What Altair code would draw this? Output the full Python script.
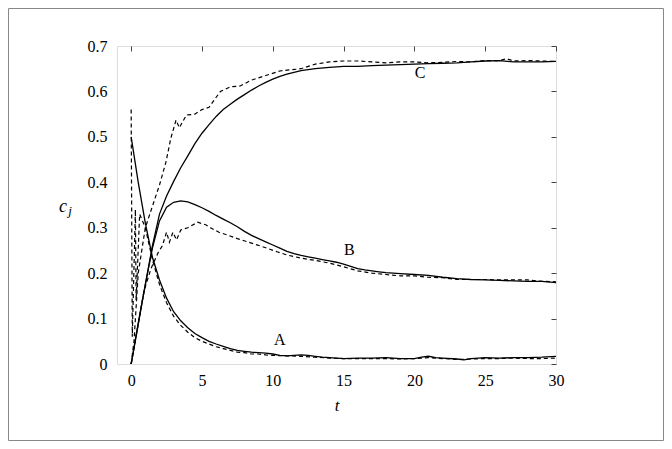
import altair as alt
import pandas as pd

# ---- data ----
tA = [0, 0.5, 1, 1.5, 2, 2.5, 3, 3.5, 4, 4.5, 5, 5.5, 6, 6.5, 7, 7.5, 8, 8.5, 9, 9.5, 10, 10.5, 11, 11.5, 12, 12.5, 13, 13.5, 14, 15, 16, 17, 18, 19, 20, 20.5, 21, 21.5, 22, 23, 23.5, 24, 25, 26, 27, 28, 29, 30]
solidA = [0.50, 0.40, 0.31, 0.235, 0.185, 0.145, 0.115, 0.095, 0.08, 0.067, 0.058, 0.05, 0.044, 0.039, 0.034, 0.03, 0.028, 0.026, 0.025, 0.024, 0.022, 0.019, 0.018, 0.019, 0.02, 0.019, 0.017, 0.015, 0.014, 0.012, 0.013, 0.013, 0.014, 0.012, 0.012, 0.015, 0.017, 0.014, 0.013, 0.011, 0.009, 0.012, 0.014, 0.013, 0.014, 0.014, 0.015, 0.017]

tAd = [0, 0.08, 0.3, 0.35, 0.6, 1, 1.5, 2, 2.5, 3, 3.5, 4, 4.5, 5, 5.5, 6, 6.5, 7, 7.5, 8, 8.5, 9, 9.5, 10, 11, 12, 13, 14, 15, 16, 17, 18, 19, 20, 21, 22, 23, 24, 25, 26, 27, 28, 29, 30]
dashA = [0.56, 0.06, 0.34, 0.14, 0.33, 0.30, 0.23, 0.175, 0.135, 0.105, 0.085, 0.07, 0.058, 0.05, 0.044, 0.038, 0.034, 0.03, 0.026, 0.025, 0.022, 0.022, 0.02, 0.019, 0.018, 0.017, 0.015, 0.013, 0.012, 0.012, 0.012, 0.012, 0.011, 0.012, 0.014, 0.012, 0.01, 0.011, 0.012, 0.012, 0.013, 0.012, 0.012, 0.013]

tB = [0, 0.5, 1, 1.5, 2, 2.5, 3, 3.5, 4, 4.5, 5, 5.5, 6, 6.5, 7, 7.5, 8, 8.5, 9, 9.5, 10, 10.5, 11, 11.5, 12, 12.5, 13, 13.5, 14, 14.5, 15, 15.5, 16, 16.5, 17, 17.5, 18, 19, 20, 21, 22, 23, 24, 25, 26, 27, 28, 29, 30]
solidB = [0.0, 0.09, 0.175, 0.255, 0.315, 0.345, 0.356, 0.359, 0.357, 0.351, 0.344, 0.336, 0.327, 0.319, 0.311, 0.302, 0.292, 0.283, 0.276, 0.269, 0.262, 0.255, 0.248, 0.243, 0.239, 0.236, 0.233, 0.23, 0.227, 0.224, 0.22, 0.215, 0.21, 0.207, 0.205, 0.203, 0.201, 0.199, 0.197, 0.195, 0.191, 0.188, 0.186, 0.185, 0.184, 0.183, 0.182, 0.182, 0.179]

tBd = [0, 0.4, 0.9, 1.4, 1.9, 2.2, 2.5, 2.7, 2.95, 3.2, 3.5, 4, 4.7, 5.3, 5.6, 6.2, 6.8, 7.5, 8.5, 9.5, 10.3, 11, 12, 13, 14, 15, 16, 17, 18, 19, 20, 21, 22, 23, 24, 25, 26, 27, 28, 29, 30]
dashB = [0.0, 0.07, 0.16, 0.21, 0.245, 0.26, 0.29, 0.268, 0.29, 0.273, 0.295, 0.3, 0.312, 0.306, 0.30, 0.29, 0.284, 0.276, 0.266, 0.256, 0.247, 0.24, 0.233, 0.228, 0.222, 0.214, 0.205, 0.2, 0.197, 0.194, 0.194, 0.191, 0.19, 0.186, 0.186, 0.186, 0.185, 0.185, 0.185, 0.182, 0.181]

tC = [0, 0.5, 1, 1.5, 2, 2.5, 3, 3.5, 4, 4.5, 5, 5.5, 6, 6.5, 7, 7.5, 8, 8.5, 9, 9.5, 10, 10.5, 11, 11.5, 12, 13, 14, 15, 16, 17, 18, 19, 20, 21, 22, 23, 24, 25, 26, 27, 28, 29, 30]
solidC = [0.0, 0.088, 0.175, 0.26, 0.33, 0.37, 0.402, 0.432, 0.458, 0.485, 0.508, 0.527, 0.545, 0.56, 0.572, 0.583, 0.593, 0.603, 0.612, 0.62, 0.627, 0.633, 0.638, 0.642, 0.646, 0.65, 0.653, 0.655, 0.655, 0.657, 0.658, 0.659, 0.66, 0.661, 0.662, 0.663, 0.665, 0.667, 0.668, 0.665, 0.665, 0.665, 0.666]

tCd = [0, 0.2, 0.5, 1, 1.53, 2, 2.46, 2.8, 3.17, 3.4, 3.9, 4.5, 5, 5.5, 6.3, 7, 7.7, 8.5, 9.5, 10.5, 12, 13, 14, 15, 16, 17, 18, 19, 20, 21, 22, 23, 24, 25, 26, 26.5, 27, 28, 29, 30]
dashC = [0.0, 0.05, 0.2, 0.3, 0.35, 0.394, 0.445, 0.497, 0.537, 0.52, 0.548, 0.55, 0.56, 0.565, 0.6, 0.61, 0.612, 0.625, 0.635, 0.645, 0.65, 0.66, 0.665, 0.667, 0.667, 0.665, 0.663, 0.665, 0.665, 0.663, 0.664, 0.666, 0.665, 0.668, 0.668, 0.672, 0.667, 0.668, 0.667, 0.666]

label_text = ["A", "B", "C"]
label_t = [10.5, 15.4, 20.4]
label_c = [0.042, 0.24, 0.63]

x_ticks = [0, 5, 10, 15, 20, 25, 30]
y_ticks = [0, 0.1, 0.2, 0.3, 0.4, 0.5, 0.6, 0.7]

FONT = "Liberation Serif"

def frame(ts, vs, name):
    return pd.DataFrame({"t": ts, "c": vs, "series": name})

solid_df = pd.concat([frame(tA, solidA, "A"), frame(tB, solidB, "B"), frame(tC, solidC, "C")])
dash_df = pd.concat([frame(tAd, dashA, "A"), frame(tBd, dashB, "B"), frame(tCd, dashC, "C")])
lab_df = pd.DataFrame({"t": label_t, "c": label_c, "txt": label_text})

xscale = alt.Scale(domain=[-1, 30], nice=False, zero=False)
yscale = alt.Scale(domain=[0, 0.7], nice=False)

solid = alt.Chart(solid_df).mark_line(color="black", strokeWidth=1.3).encode(
    x=alt.X("t:Q", scale=xscale, axis=alt.Axis(
        values=x_ticks, format="d", tickSize=0, domain=False, grid=False,
        labelFlush=False,
        labelFont=FONT, labelFontSize=16, labelColor="black", labelPadding=8,
        title="t", titleFont=FONT, titleFontSize=17, titleFontStyle="italic",
        titleFontWeight="normal", titleColor="black", titlePadding=9)),
    y=alt.Y("c:Q", scale=yscale, axis=alt.Axis(
        values=y_ticks, format="~g", tickSize=0, domain=False, grid=False,
        labelFlush=False,
        labelFont=FONT, labelFontSize=16, labelColor="black", labelPadding=10,
        title=None)),
    detail="series:N",
)

dashed = alt.Chart(dash_df).mark_line(color="black", strokeWidth=1.2, strokeDash=[4, 3]).encode(
    x=alt.X("t:Q", scale=xscale, axis=alt.Axis(
        values=x_ticks, tickSize=5, offset=-5, labels=False, domain=False,
        grid=False, title=None, tickColor="#444")),
    y=alt.Y("c:Q", scale=yscale, axis=alt.Axis(
        values=y_ticks, tickSize=5, offset=-5, labels=False, domain=False,
        grid=False, title=None, tickColor="#444")),
    detail="series:N",
)

labels = alt.Chart(lab_df).mark_text(font=FONT, fontSize=16, color="black", baseline="alphabetic").encode(
    x=alt.X("t:Q", scale=xscale, axis=None),
    y=alt.Y("c:Q", scale=yscale, axis=None),
    text="txt:N",
)

ytitle_c = alt.Chart(pd.DataFrame({"s": ["c"]})).mark_text(
    font=FONT, fontSize=18, fontStyle="italic", color="black", baseline="alphabetic"
).encode(x=alt.value(-54), y=alt.value(166), text="s:N")
ytitle_j = alt.Chart(pd.DataFrame({"s": ["j"]})).mark_text(
    font=FONT, fontSize=13, fontStyle="italic", color="black", baseline="alphabetic"
).encode(x=alt.value(-47), y=alt.value(169), text="s:N")

border = alt.Chart(pd.DataFrame({"s": [0]})).mark_rect(
    fill=None, stroke="#888", strokeWidth=1
).encode(x=alt.value(-108.5), x2=alt.value(546.5), y=alt.value(-37.5), y2=alt.value(394.5))

chart = alt.layer(solid, dashed, labels, ytitle_c, ytitle_j, border).resolve_axis(
    x="independent", y="independent"
).properties(
    width=439, height=318,
    autosize=alt.AutoSizeParams(type="none"),
    padding={"left": 109, "top": 38, "right": 108, "bottom": 77},
).configure_view(stroke="#444", strokeWidth=1).configure(background="white")

chart.save("out.html", embed_options={"renderer": "svg", "actions": False})
